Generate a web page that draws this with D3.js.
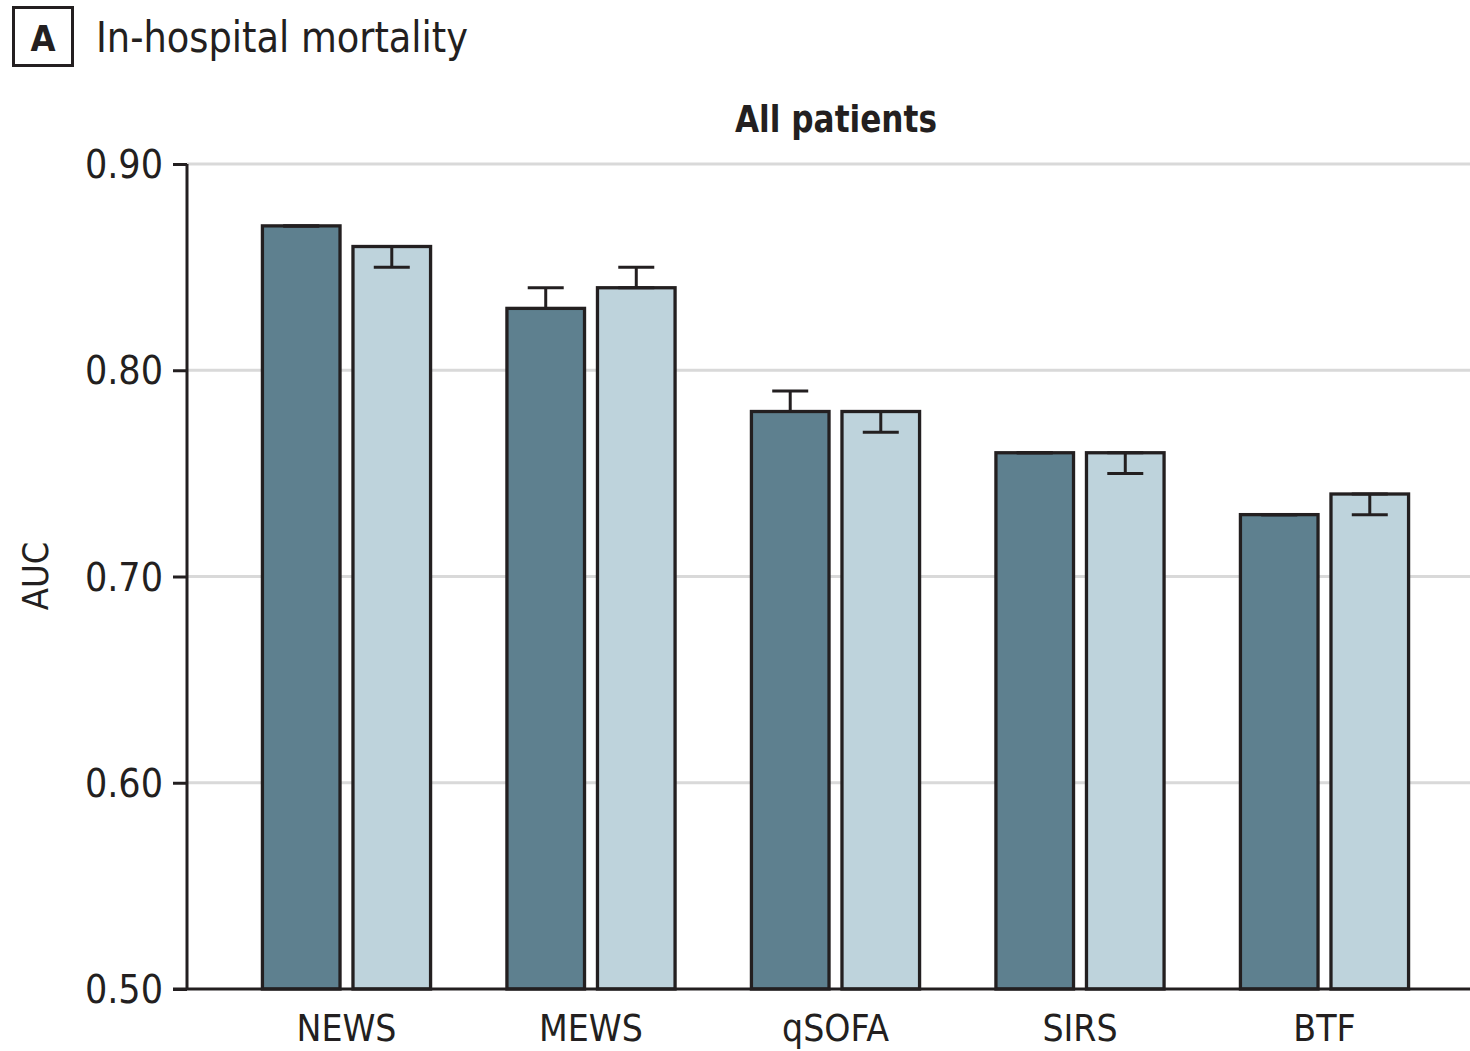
<!DOCTYPE html>
<html>
<head>
<meta charset="utf-8">
<script src="https://cdn.jsdelivr.net/npm/d3@7"></script>
<style>
  html, body { margin: 0; padding: 0; background: #fff; }
  svg { display: block; }
  text { font-family: "Liberation Sans Narrow", "DejaVu Sans Condensed", "Roboto Condensed", sans-serif; fill: #231f20; }
</style>
</head>
<body>
<svg id="chart" width="1470" height="1051"></svg>
<script>
// Scores compared (x categories)
const categories = ["NEWS", "MEWS", "qSOFA", "SIRS", "BTF"];
const seriesNames = ["darkSeries", "lightSeries"];

// AUC point estimates and confidence limits per series
const darkValues = [0.87, 0.83, 0.78, 0.76, 0.73];
const darkLower  = [0.87, 0.83, 0.78, 0.76, 0.73];
const darkUpper  = [0.87, 0.84, 0.79, 0.76, 0.73];

const lightValues = [0.86, 0.84, 0.78, 0.76, 0.74];
const lightLower  = [0.85, 0.84, 0.77, 0.75, 0.73];
const lightUpper  = [0.86, 0.85, 0.78, 0.76, 0.74];

const yTicks = [0.50, 0.60, 0.70, 0.80, 0.90];

const ink = "#231f20";
const colors = { darkSeries: "#5e808f", lightSeries: "#bed3dc" };
const narrow = "'Liberation Sans Narrow','DejaVu Sans Condensed',sans-serif";

const svg = d3.select("#chart");

// Panel letter box and title
svg.append("rect").attr("x", 13.5).attr("y", 7.5).attr("width", 59).attr("height", 58)
  .attr("fill", "none").attr("stroke", ink).attr("stroke-width", 3);
svg.append("text").attr("x", 43).attr("y", 51).attr("text-anchor", "middle")
  .attr("font-size", 36).attr("font-weight", "bold").text("A");
svg.append("text").attr("x", 96).attr("y", 52)
  .attr("font-size", 43).attr("textLength", 372).attr("lengthAdjust", "spacingAndGlyphs")
  .text("In-hospital mortality");

// Subtitle
svg.append("text").attr("x", 735).attr("y", 132)
  .attr("font-size", 38).attr("font-weight", "bold")
  .attr("textLength", 202).attr("lengthAdjust", "spacingAndGlyphs").text("All patients");

const y = d3.scaleLinear().domain([0.5, 0.9]).range([989, 164]);

const x0 = d3.scaleBand().domain(categories).range([224.25, 1446.75])
  .paddingInner(0.3).paddingOuter(0.15);
const x1 = d3.scaleBand().domain(seriesNames).range([1.5, x0.bandwidth() - 1.5])
  .paddingInner(0.143);

// Gridlines
svg.append("g").selectAll("line").data(yTicks.filter(t => t > 0.5)).join("line")
  .attr("x1", 187).attr("x2", 1470)
  .attr("y1", d => y(d)).attr("y2", d => y(d))
  .attr("stroke", "#d9d9d9").attr("stroke-width", 3);

// Build rows from the arrays
const rows = categories.map((c, i) => ({
  cat: c,
  bars: [
    { s: "darkSeries", v: darkValues[i], lo: darkLower[i], hi: darkUpper[i] },
    { s: "lightSeries", v: lightValues[i], lo: lightLower[i], hi: lightUpper[i] }
  ]
}));

const groups = svg.append("g").selectAll("g").data(rows).join("g")
  .attr("transform", d => `translate(${x0(d.cat)},0)`);

groups.selectAll("rect").data(d => d.bars).join("rect")
  .attr("x", d => x1(d.s))
  .attr("width", x1.bandwidth())
  .attr("y", d => y(d.v))
  .attr("height", d => y(0.5) - y(d.v))
  .attr("fill", d => colors[d.s])
  .attr("stroke", ink).attr("stroke-width", 3.3);

// Error bars
const capW = 36;
const eb = groups.selectAll("g.eb").data(d => d.bars).join("g").attr("class", "eb");
eb.append("line")
  .attr("x1", d => x1(d.s) + x1.bandwidth() / 2).attr("x2", d => x1(d.s) + x1.bandwidth() / 2)
  .attr("y1", d => y(d.lo)).attr("y2", d => y(d.hi))
  .attr("stroke", ink).attr("stroke-width", 3);
eb.selectAll("line.cap").data(d => [{ s: d.s, v: d.lo }, { s: d.s, v: d.hi }]).join("line")
  .attr("class", "cap")
  .attr("x1", d => x1(d.s) + x1.bandwidth() / 2 - capW / 2)
  .attr("x2", d => x1(d.s) + x1.bandwidth() / 2 + capW / 2)
  .attr("y1", d => y(d.v)).attr("y2", d => y(d.v))
  .attr("stroke", ink).attr("stroke-width", 3);

// Y axis
const yAxis = svg.append("g").attr("transform", "translate(187,0)")
  .call(d3.axisLeft(y).tickValues(yTicks).tickFormat(d3.format(".2f")).tickSize(14).tickPadding(10));
yAxis.select(".domain").attr("stroke", ink).attr("stroke-width", 3).attr("d", "M0,164V989");
yAxis.selectAll(".tick line").attr("stroke", ink).attr("stroke-width", 3);
yAxis.selectAll(".tick text").attr("font-size", 39).attr("dy", "0.35em")
  .style("font-family", narrow).attr("fill", ink);

// X axis baseline and category labels
const xAxis = svg.append("g").attr("transform", "translate(0,989)")
  .call(d3.axisBottom(x0).tickSize(0).tickPadding(26));
xAxis.select(".domain").attr("stroke", ink).attr("stroke-width", 3).attr("d", "M173,0H1470");
xAxis.selectAll(".tick text").attr("font-size", 37).attr("dy", "0.71em")
  .style("font-family", narrow).attr("fill", ink);

// Y axis title
svg.append("text").attr("transform", "translate(48,576) rotate(-90)")
  .attr("text-anchor", "middle").attr("font-size", 36).text("AUC");
</script>
</body>
</html>
